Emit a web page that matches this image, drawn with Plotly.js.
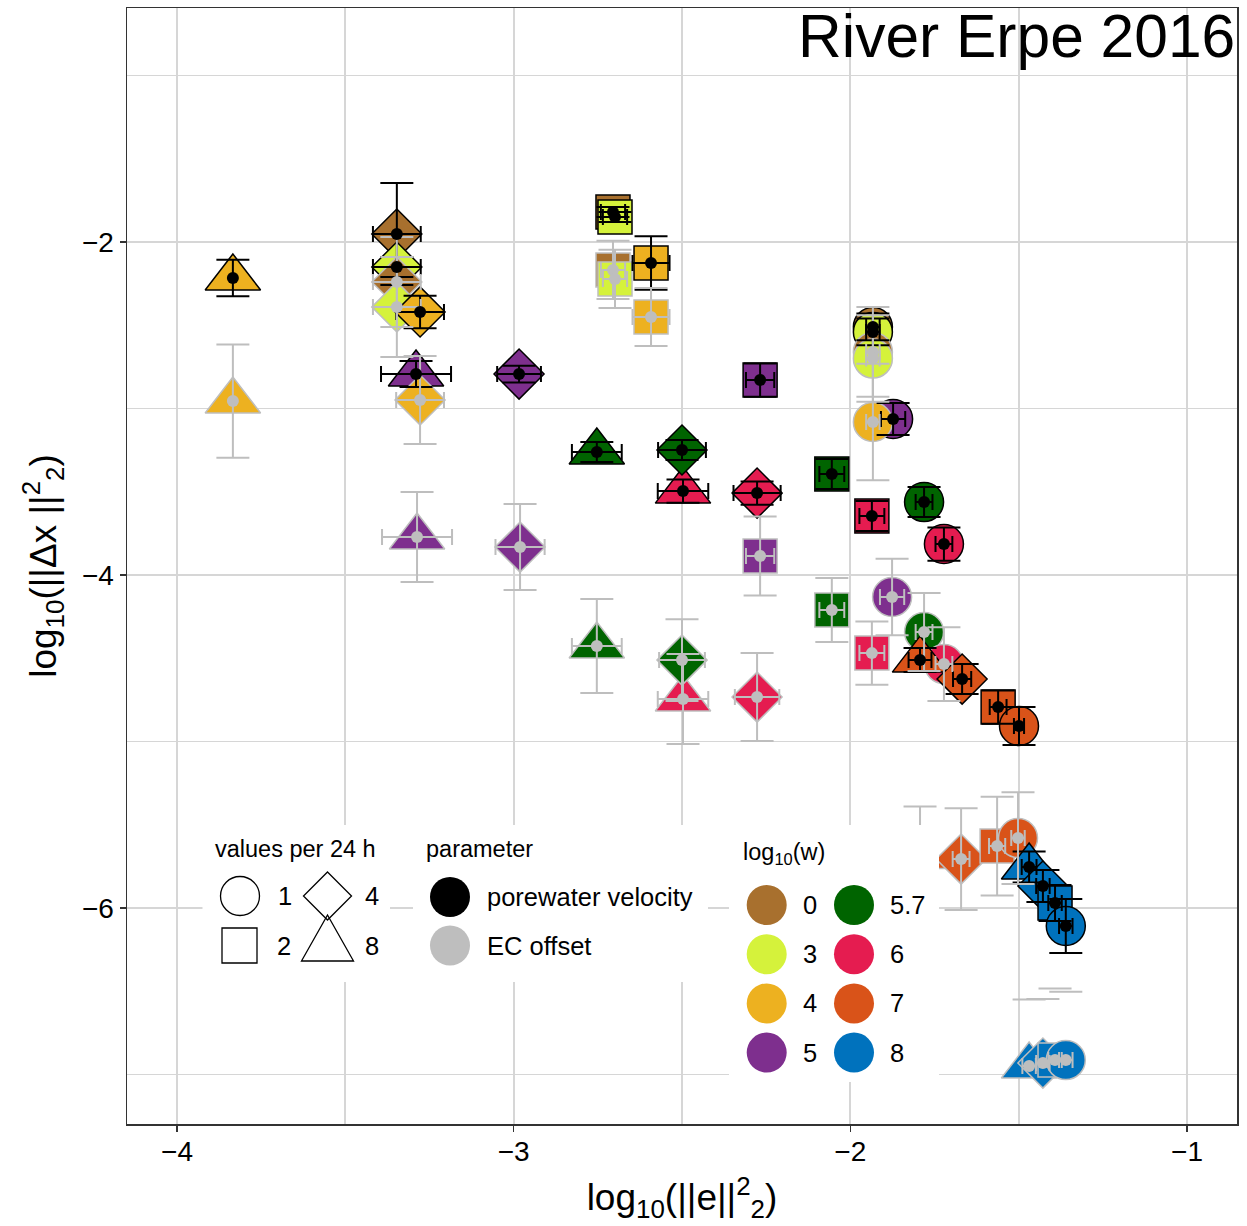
<!DOCTYPE html>
<html><head><meta charset="utf-8">
<script src="https://cdn.plot.ly/plotly-3.0.1.min.js"></script>
<style>html,body{margin:0;padding:0;background:#fff}#chart{width:1247px;height:1226px}</style>
</head><body><div id="chart"></div>
<script>
// ---- data (rows listed in drawing order) ----
const parameter = ['pv','pv','pv','pv','pv','ec','pv','ec','ec','ec','pv','ec','pv','pv','ec','ec','pv','pv','pv','ec','ec','pv','ec','pv','pv','pv','pv','pv','pv','pv','ec','pv','ec','ec','ec','ec','ec','ec','ec','ec','ec','ec','pv','pv','ec','pv','pv','ec','ec','ec','ec','pv','pv','pv','pv','ec','ec','ec','ec'];
const logW = [0,3,0,4,3,0,4,3,0,3,4,4,0,3,0,3,5,5,5,4,4,5,4,6,5.7,5.7,5.7,6,5.7,6,5,6,5,5,5,5.7,5.7,5.7,6,6,5.7,6,7,7,6,7,7,7,7,7,7,8,8,8,8,8,8,8,8];
const valuesPer24h = [2,2,4,2,4,2,8,2,4,4,4,2,1,1,1,1,8,4,2,4,8,1,1,8,8,4,2,4,1,2,8,1,4,2,1,2,1,8,2,8,4,1,8,4,4,2,1,8,4,2,1,8,4,2,1,8,4,2,1];
const logE = [-2.705,-2.699,-3.347,-2.592,-3.347,-2.705,-3.834,-2.699,-3.347,-3.347,-3.278,-2.592,-1.933,-1.933,-1.933,-1.933,-3.290,-2.984,-2.268,-3.278,-3.834,-1.873,-1.933,-2.497,-2.753,-2.500,-2.055,-2.277,-1.781,-1.936,-3.287,-1.722,-2.981,-2.268,-1.876,-2.055,-1.781,-2.753,-1.936,-2.497,-2.500,-1.722,-1.793,-1.668,-2.277,-1.561,-1.499,-1.793,-1.671,-1.564,-1.502,-1.469,-1.428,-1.392,-1.360,-1.469,-1.428,-1.392,-1.360];
const logDx = [-1.820,-1.850,-1.952,-2.126,-2.150,-2.168,-2.216,-2.222,-2.240,-2.390,-2.420,-2.450,-2.51,-2.54,-2.66,-2.70,-2.793,-2.793,-2.829,-2.949,-2.955,-3.063,-3.081,-3.496,-3.261,-3.249,-3.393,-3.508,-3.562,-3.646,-3.772,-3.814,-3.832,-3.886,-4.132,-4.210,-4.342,-4.426,-4.469,-4.745,-4.511,-4.535,-4.511,-4.625,-4.733,-4.793,-4.907,-5.69,-5.706,-5.628,-5.580,-5.754,-5.868,-5.970,-6.108,-6.949,-6.931,-6.913,-6.913];
const logE_err = [0.036,0.036,0.071,0.055,0.071,0.036,NaN,0.036,0.071,0.071,0.071,0.055,0.02,0.02,0.02,0.02,0.104,0.065,0.042,0.071,NaN,0.036,0.02,0.075,0.074,0.071,0.037,0.07,0.025,0.037,0.104,0.025,0.073,0.042,0.036,0.037,0.025,0.074,0.037,0.075,0.068,0.025,0.034,0.027,0.066,0.025,0.015,0.03,0.025,0.024,0.02,0.022,0.02,0.02,0.02,0.02,0.02,0.02,0.02];
const logDx_errUp = [0.03,0.03,0.306,0.16,0.06,0.175,0.11,0.175,0.27,0.30,0.098,0.174,0.08,0.08,0.27,0.26,0.078,0.05,0.1,0.264,0.34,0.096,0.35,0.07,0.06,0.06,0.09,0.07,0.09,0.09,0.27,0.1,0.258,0.237,0.23,0.192,0.234,0.282,0.19,0.27,0.246,0.222,0.072,0.09,0.264,0.1,0.114,0.3,0.306,0.297,0.276,0.093,0.096,0.108,0.162,0.40,0.385,0.43,0.41];
const logDx_errDown = [0.03,0.03,0.306,0.16,0.06,0.175,0.11,0.175,0.27,0.30,0.098,0.174,0.08,0.08,0.27,0.26,0.078,0.05,0.1,0.264,0.34,0.096,0.35,0.07,0.06,0.06,0.09,0.07,0.09,0.09,0.27,0.1,0.258,0.237,0.23,0.192,0.234,0.282,0.19,0.27,0.246,0.222,0.072,0.09,0.264,0.1,0.114,0.3,0.306,0.297,0.276,0.093,0.096,0.108,0.162,NaN,NaN,NaN,NaN];

const wLevels = [0,3,4,5,5.7,6,7,8];
const wLabels = ['0','3','4','5','5.7','6','7','8'];
const nLevels = [1,2,4,8];
const paramLabels = {pv:'porewater velocity', ec:'EC offset'};

// ---- styles ----
const wColor = {0:'#A8702E',3:'#D5F23B',4:'#EDB120',5:'#7E2F8E',5.7:'#006400',6:'#E51C50',7:'#D95319',8:'#0072BD'};
const nSymbol = {1:'circle',2:'square',4:'diamond',8:'triangle-up'};
const nSize = {1:39,2:34,4:38.5,8:48};
const GREY = '#BEBEBE';
const pColor = {pv:'#000000', ec:GREY};
const FONT = 'Liberation Sans, Arial, Helvetica, sans-serif';

const idx = k => parameter.map((p,i)=>p===k?i:-1).filter(i=>i>=0);
const pick = (arr, ii) => ii.map(i=>arr[i]);

const traces = [];
// big markers
traces.push({
  type:'scatter', mode:'markers', x:logE, y:logDx, hoverinfo:'skip', showlegend:false,
  marker:{symbol:valuesPer24h.map(n=>nSymbol[n]), size:valuesPer24h.map(n=>nSize[n]),
    color:logW.map(w=>wColor[w]), opacity:1,
    line:{color:parameter.map(p=>pColor[p]), width:1.5}}
});
// error bars (pore first, EC on top)
['pv','ec'].forEach(k=>{
  const ii = idx(k);
  const lone = ii.map(i=>isNaN(logDx_errDown[i]));
  traces.push({
    type:'scatter', mode:'markers', x:pick(logE,ii), y:pick(logDx,ii), hoverinfo:'skip', showlegend:false,
    marker:{size:2, opacity:0},
    error_x:{type:'data', visible:true, array:pick(logE_err,ii), color:pColor[k], thickness:2, width:8, copy_ystyle:false},
    error_y:{type:'data', visible:true, symmetric:false,
      array:ii.map((i,j)=>lone[j]?NaN:logDx_errUp[i]),
      arrayminus:ii.map((i,j)=>lone[j]?NaN:logDx_errDown[i]),
      color:pColor[k], thickness:2, width:16.5}
  });
  // error bars whose lower end is undefined: only the upper cap is drawn
  const li = ii.filter((i,j)=>lone[j]);
  if(li.length){
    traces.push({type:'scatter', mode:'markers', hoverinfo:'skip', showlegend:false,
      x:pick(logE,li), y:li.map(i=>logDx[i]+logDx_errUp[i]),
      marker:{symbol:'line-ew', size:23.6, line:{color:pColor[k], width:2}}});
  }
});
// center dots
['ec','pv'].forEach(k=>{
  const ii = idx(k);
  traces.push({type:'scatter', mode:'markers', x:pick(logE,ii), y:pick(logDx,ii), hoverinfo:'skip', showlegend:false,
    marker:{symbol:'circle', size:12, color:pColor[k], line:{width:0}}});
});

// ---- legends (drawn in paper space) ----
const PL=127, PT=8, PW=1110, PH=1116;
const X = px => (px-PL)/PW, Y = py => (PT+PH-py)/PH;
const shapes = [];
const ann = [];
function box(x0,y0,x1,y1){shapes.push({type:'rect',xref:'paper',yref:'paper',x0:X(x0),x1:X(x1),y0:Y(y1),y1:Y(y0),fillcolor:'#ffffff',line:{width:0},layer:'above'});}
function circ(cx,cy,r,fill,line){shapes.push({type:'circle',xref:'paper',yref:'paper',x0:X(cx-r),x1:X(cx+r),y0:Y(cy+r),y1:Y(cy-r),fillcolor:fill,line:line||{width:0},layer:'above'});}
function poly(pts,fill,line){shapes.push({type:'path',xref:'paper',yref:'paper',path:'M'+pts.map(p=>X(p[0])+','+Y(p[1])).join('L')+'Z',fillcolor:fill,line:line,layer:'above'});}
function txt(x,y,t,size){ann.push({xref:'paper',yref:'paper',x:X(x),y:Y(y),xanchor:'left',yanchor:'middle',text:t,showarrow:false,font:{family:FONT,size:size,color:'#000'}});}

box(202.5,825,390,982);
box(413,825,708,982);
box(729,825,939,1082);

const kl = {color:'#000',width:1.3};
// values per 24 h
txt(213,849,'values per 24 h',23.5);
const shapeKey = {1:[240,896],4:[327.5,896],2:[239.5,945.5],8:[327.5,945.5]};
nLevels.forEach(n=>{
  const [cx,cy]=shapeKey[n];
  if(n===1) circ(cx,cy,19.5,'rgba(0,0,0,0)',kl);
  if(n===2) poly([[cx-17.5,cy-17.5],[cx+17.5,cy-17.5],[cx+17.5,cy+17.5],[cx-17.5,cy+17.5]],'rgba(0,0,0,0)',kl);
  if(n===4) poly([[cx,cy-24],[cx+24,cy],[cx,cy+24],[cx-24,cy]],'rgba(0,0,0,0)',kl);
  if(n===8) poly([[cx,cy-30.5],[cx+26,cy+15.5],[cx-26,cy+15.5]],'rgba(0,0,0,0)',kl);
  txt(cx+(n===1||n===2?35.5:35),cy,String(n),25.5);
});
// parameter
txt(424,849,'parameter',23.5);
['pv','ec'].forEach((k,j)=>{
  const cy = 897+j*48.5;
  circ(450,cy,20,pColor[k]);
  txt(484.5,cy,paramLabels[k],25.5);
});
// log10(w)
txt(741,853,'log<sub>10</sub>(w)',23.5);
wLevels.forEach((w,j)=>{
  const col = Math.floor(j/4), row = j%4;
  const cx = col===0?766.7:854, cy = 905+row*49.2;
  circ(cx,cy,20,wColor[w]);
  txt(cx+34,cy,wLabels[j],25.5);
});

// title
ann.push({xref:'paper',yref:'paper',x:1,y:Y(0),xanchor:'right',yanchor:'top',text:'River Erpe 2016',showarrow:false,font:{family:FONT,size:60.5,color:'#000'}});

const GRID = '#D6D6D6';
const layout = {
  width:1247, height:1226, paper_bgcolor:'#fff', plot_bgcolor:'#fff',
  margin:{l:PL, r:1247-PL-PW, t:PT, b:1226-PT-PH},
  font:{family:FONT, color:'#000'},
  showlegend:false,
  xaxis:{range:[-4.1485,-0.8515], tick0:-4, dtick:1, ticks:'outside', ticklen:6, tickwidth:1.5, tickcolor:'#333',
    tickfont:{size:28,color:'#000'}, ticklabelstandoff:-4, showgrid:true, gridcolor:GRID, gridwidth:1.8, zeroline:false,
    minor:{dtick:0.5, tick0:-4, showgrid:true, gridcolor:GRID, gridwidth:1.8, ticks:''},
    showline:true, mirror:true, linecolor:'#333', linewidth:1.5, automargin:false,
    title:{text:'log<sub>10</sub>(||e||<sup>2</sup><sub>2</sub>)', font:{size:37,color:'#000'}, standoff:18}},
  yaxis:{range:[-7.297,-0.5946], tick0:0, dtick:2, ticks:'outside', ticklen:6, tickwidth:1.5, tickcolor:'#333',
    tickfont:{size:28,color:'#000'}, showgrid:true, gridcolor:GRID, gridwidth:1.8, zeroline:false,
    minor:{dtick:1, tick0:-1, showgrid:true, gridcolor:GRID, gridwidth:1.8, ticks:''},
    showline:true, mirror:true, linecolor:'#333', linewidth:1.5, automargin:false,
    title:{text:'log<sub>10</sub>(||Δx ||<sup>2</sup><sub>2</sub>)', font:{size:37,color:'#000'}, standoff:14}},
  shapes:shapes, annotations:ann
};
Plotly.newPlot('chart', traces, layout, {displayModeBar:false, staticPlot:true});
</script></body></html>
